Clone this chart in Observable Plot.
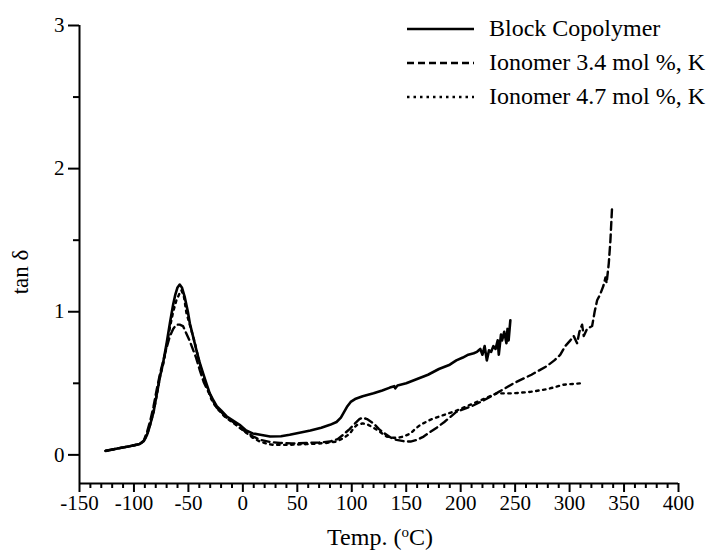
<!DOCTYPE html>
<html>
<head>
<meta charset="utf-8">
<script src="https://cdn.jsdelivr.net/npm/d3@7"></script>
<script src="https://cdn.jsdelivr.net/npm/@observablehq/plot@0.6"></script>
<style>
  body { margin: 0; background: #fff; }
  #chart svg { display: block; }
</style>
</head>
<body>
<div id="chart"></div>
<script>
// tan δ versus temperature for three materials
const seriesNames = ["Block Copolymer", "Ionomer 3.4 mol %, K", "Ionomer 4.7 mol %, K"];

const blockTemp = [-126, -115, -104, -95, -91, -88, -85.5, -82, -79.4, -76, -73.3, -70, -67, -64, -62, -60, -58, -56, -53.3, -50.5, -48.7, -45.5, -42.6, -39.5, -36.5, -33.5, -30.4, -27, -24, -20, -15, -9, -3, 3, 9, 16, 25, 35, 43, 52, 62, 72, 80, 86, 90, 93, 96, 99, 103, 110, 120, 128, 135, 139, 140, 142, 150, 160, 170, 180, 190, 196, 202, 207, 212, 215, 218, 220, 222, 224, 226, 228, 230, 232, 234, 235, 237, 238, 240, 242, 243, 244, 245.6];
const blockTan = [0.028, 0.045, 0.06, 0.075, 0.095, 0.14, 0.2, 0.30, 0.41, 0.55, 0.64, 0.78, 0.92, 1.05, 1.12, 1.17, 1.19, 1.17, 1.10, 1.00, 0.92, 0.82, 0.73, 0.64, 0.57, 0.50, 0.43, 0.38, 0.34, 0.31, 0.27, 0.24, 0.21, 0.17, 0.15, 0.14, 0.128, 0.13, 0.14, 0.155, 0.17, 0.19, 0.21, 0.23, 0.26, 0.30, 0.34, 0.37, 0.39, 0.41, 0.43, 0.45, 0.47, 0.48, 0.465, 0.485, 0.50, 0.53, 0.56, 0.60, 0.63, 0.66, 0.68, 0.70, 0.71, 0.72, 0.74, 0.70, 0.76, 0.66, 0.73, 0.72, 0.76, 0.74, 0.80, 0.70, 0.84, 0.80, 0.86, 0.78, 0.88, 0.80, 0.94];

const iono34Temp = [-126, -115, -104, -95, -91, -88, -85, -82, -79, -76, -73, -70, -67, -64, -61, -58, -55, -52, -49, -47, -43, -39.5, -36, -33, -30, -27, -24, -20, -15, -9, -3, 3, 9, 16, 25, 34, 45, 58, 70, 80, 87, 92, 98, 103, 107, 110, 114, 120, 125, 130, 136, 141, 148, 154, 160, 166, 172, 178, 185, 196, 210, 221, 235, 248.5, 265, 279, 286, 291.5, 296, 300.7, 303.8, 306.9, 309, 311.5, 313, 316, 320.7, 323, 325.3, 328, 331, 333, 334, 336, 337.5, 339];
const iono34Tan = [0.028, 0.045, 0.06, 0.075, 0.10, 0.16, 0.24, 0.34, 0.46, 0.57, 0.66, 0.75, 0.83, 0.88, 0.91, 0.91, 0.90, 0.85, 0.80, 0.76, 0.68, 0.59, 0.51, 0.46, 0.42, 0.37, 0.33, 0.30, 0.26, 0.23, 0.19, 0.16, 0.13, 0.105, 0.09, 0.083, 0.08, 0.083, 0.086, 0.093, 0.11, 0.14, 0.18, 0.22, 0.25, 0.26, 0.25, 0.22, 0.18, 0.15, 0.12, 0.105, 0.095, 0.093, 0.105, 0.128, 0.16, 0.19, 0.23, 0.30, 0.34, 0.38, 0.44, 0.50, 0.56, 0.62, 0.66, 0.70, 0.76, 0.80, 0.83, 0.78, 0.86, 0.91, 0.83, 0.88, 0.90, 1.00, 1.08, 1.12, 1.18, 1.24, 1.20, 1.34, 1.50, 1.73];

const iono47Temp = [-126, -115, -104, -95, -91, -88, -85.5, -82, -79, -76, -73, -70, -67, -64, -61, -58, -56.4, -54, -51.8, -48, -44, -41, -38, -35, -32, -29, -26, -22, -17, -10, -3, 3, 9, 15.6, 22, 27.6, 40, 58.6, 75, 86, 93, 98.4, 102, 105, 110, 115, 120, 126, 132, 138, 143, 148, 154, 158, 163, 172, 181, 196.5, 215, 233, 248, 264, 280, 294, 310];
const iono47Tan = [0.028, 0.045, 0.06, 0.075, 0.095, 0.14, 0.2, 0.30, 0.42, 0.55, 0.64, 0.76, 0.89, 1.0, 1.08, 1.13, 1.15, 1.10, 0.99, 0.89, 0.78, 0.68, 0.59, 0.52, 0.45, 0.39, 0.35, 0.31, 0.27, 0.23, 0.19, 0.155, 0.12, 0.093, 0.078, 0.07, 0.07, 0.075, 0.082, 0.093, 0.12, 0.15, 0.19, 0.21, 0.22, 0.21, 0.19, 0.16, 0.128, 0.12, 0.12, 0.13, 0.15, 0.18, 0.21, 0.245, 0.27, 0.31, 0.37, 0.43, 0.43, 0.44, 0.46, 0.49, 0.50];

const xMajorTicks = [-150, -100, -50, 0, 50, 100, 150, 200, 250, 300, 350, 400];
const xMinorTicks = d3.range(-150, 401, 10).filter(t => t % 50 !== 0);
const yMajorTicks = [0, 1, 2, 3];
const yMinorTicks = [0.5, 1.5, 2.5];

const dashStyles = [null, "8,4.5", "2.5,4.5"];

const toRows = (temps, vals, name) => temps.map((t, i) => ({temp: t, tan: vals[i], series: name}));
const series = [
  toRows(blockTemp, blockTan, seriesNames[0]),
  toRows(iono34Temp, iono34Tan, seriesNames[1]),
  toRows(iono47Temp, iono47Tan, seriesNames[2])
];

const serif = "'Liberation Serif', 'Times New Roman', Times, serif";
const fmt = d => String(d);

const chart = Plot.plot({
  width: 722,
  height: 558,
  marginLeft: 79,
  marginRight: 44,
  marginTop: 25,
  marginBottom: 75,
  style: {fontFamily: serif, background: "#fff", color: "#000"},
  x: {domain: [-150, 400]},
  y: {domain: [-0.2, 3]},
  marks: [
    Plot.ruleY([-0.2], {stroke: "#000", strokeWidth: 2}),
    Plot.ruleX([-150], {stroke: "#000", strokeWidth: 2}),
    Plot.axisX({ticks: xMajorTicks, tickSize: 9, tickPadding: 3, tickFormat: fmt, fontSize: 21, strokeWidth: 2, label: null}),
    Plot.axisX({ticks: xMinorTicks, tickSize: 5, tickFormat: () => "", strokeWidth: 2, label: null}),
    Plot.axisY({ticks: yMajorTicks, tickSize: 11, tickPadding: 4, tickFormat: fmt, fontSize: 21, strokeWidth: 2, label: null}),
    Plot.axisY({ticks: yMinorTicks, tickSize: 6, tickFormat: () => "", strokeWidth: 2, label: null}),
    ...series.map((rows, i) => Plot.line(rows, {
      x: "temp", y: "tan",
      stroke: "#000",
      strokeWidth: i === 0 ? 2.6 : 2.4,
      strokeDasharray: dashStyles[i],
      strokeLinejoin: "round"
    }))
  ]
});

document.getElementById("chart").appendChild(chart);

const svg = d3.select(chart);

// axis titles
const xt = svg.append("text")
  .attr("x", 380).attr("y", 545)
  .attr("text-anchor", "middle")
  .attr("font-family", serif).attr("font-size", 24).attr("fill", "#000");
xt.append("tspan").text("Temp. (");
xt.append("tspan").attr("baseline-shift", "super").attr("font-size", 15).text("o");
xt.append("tspan").text("C)");

svg.append("text")
  .attr("transform", "translate(28,272) rotate(-90)")
  .attr("text-anchor", "middle")
  .attr("font-family", serif).attr("font-size", 23).attr("fill", "#000")
  .text("tan δ");

// legend
const legend = svg.append("g");
seriesNames.forEach((name, i) => {
  const y = 29 + i * 34;
  legend.append("line")
    .attr("x1", 407).attr("x2", 474).attr("y1", y).attr("y2", y)
    .attr("stroke", "#000").attr("stroke-width", i === 0 ? 2.6 : 2.4)
    .attr("stroke-dasharray", i === 1 ? "7,4" : i === 2 ? "2.5,4" : null);
  legend.append("text")
    .attr("x", 489).attr("y", y + 7)
    .attr("text-anchor", "start")
    .attr("font-family", serif).attr("font-size", 24).attr("fill", "#000")
    .text(name);
});
</script>
</body>
</html>
